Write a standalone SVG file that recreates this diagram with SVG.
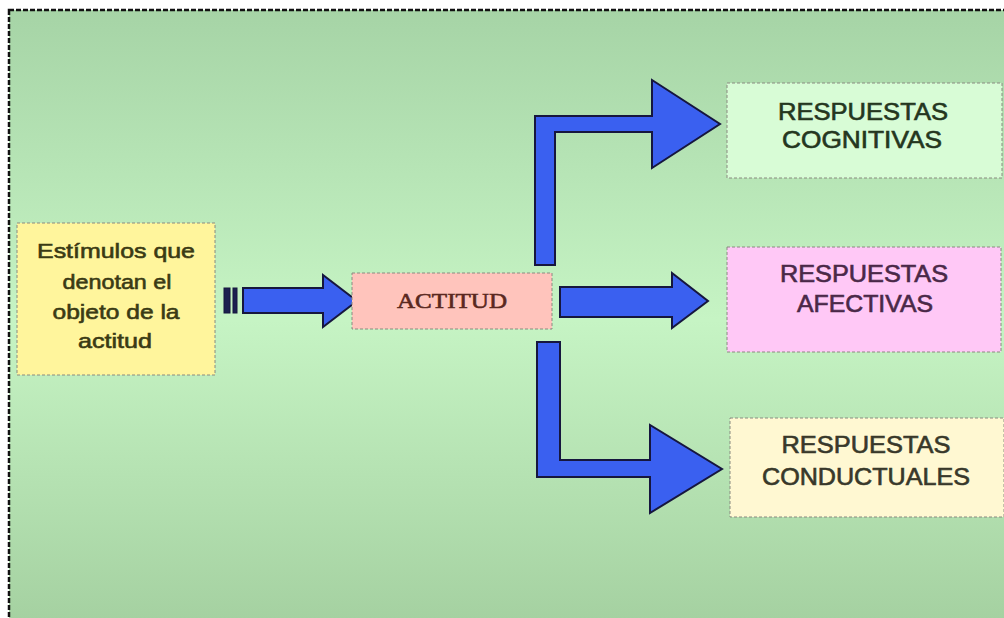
<svg xmlns="http://www.w3.org/2000/svg" width="1004" height="618" viewBox="0 0 1004 618">
  <defs>
    <linearGradient id="bg" x1="0" y1="0" x2="0" y2="1">
      <stop offset="0" stop-color="#a6d4a6"/>
      <stop offset="0.5" stop-color="#c6f4c4"/>
      <stop offset="1" stop-color="#a4d0a0"/>
    </linearGradient>
    <style>
      .box { stroke: #8a8a80; stroke-width: 1; stroke-dasharray: 3 2; }
      .arrow { fill: #3a60f0; stroke: #16163e; stroke-width: 2; stroke-linejoin: miter; }
      .stripe { fill: #1c2050; stroke: #16163e; stroke-width: 1; }
      .sans { font-family: "Liberation Sans", Arial, sans-serif; text-anchor: middle; stroke-width: 0.6; }
      .serif { font-family: "Liberation Serif", "Times New Roman", serif; text-anchor: middle; stroke-width: 0.6; }
    </style>
  </defs>
  <rect x="0" y="0" width="1004" height="618" fill="#ffffff"/>
  <rect x="9" y="10" width="1010" height="620" fill="url(#bg)" stroke="#111" stroke-width="2.5" stroke-dasharray="5 2"/>

  <g id="connectors">
    <g id="arrow-in">
      <rect x="224" y="288" width="6" height="25" class="stripe"/>
      <rect x="233" y="288" width="4" height="25" class="stripe"/>
      <path d="M243,288 L323,288 L323,275 L357,301 L323,327 L323,313 L243,313 Z" class="arrow"/>
    </g>
    <path id="arrow-cog" d="M535,265 L535,116 L652,116 L652,80 L720,124 L652,168 L652,132 L555,132 L555,265 Z" class="arrow"/>
    <path id="arrow-afe" d="M560,287 L672,287 L672,273 L708,301 L672,328 L672,317 L560,317 Z" class="arrow"/>
    <path id="arrow-con" d="M537,342 L560,342 L560,460 L650,460 L650,425 L722,469 L650,513 L650,477 L537,477 Z" class="arrow"/>
  </g>

  <g id="node-estimulos">
    <rect x="17" y="223" width="198" height="152" fill="#fff59c" class="box"/>
    <g class="sans" font-size="21" fill="#3a3a14" stroke="#3a3a14">
      <text x="116" y="258" textLength="158" lengthAdjust="spacingAndGlyphs">Estímulos que</text>
      <text x="117" y="289" textLength="109" lengthAdjust="spacingAndGlyphs">denotan el</text>
      <text x="116" y="319" textLength="127" lengthAdjust="spacingAndGlyphs">objeto de la</text>
      <text x="115" y="348" textLength="74" lengthAdjust="spacingAndGlyphs">actitud</text>
    </g>
  </g>

  <g id="node-actitud">
    <rect x="352" y="273" width="200" height="56" fill="#ffc4bc" class="box"/>
    <text x="452" y="308" class="serif" font-size="22" fill="#5a2820" stroke="#5a2820" textLength="110" lengthAdjust="spacingAndGlyphs">ACTITUD</text>
  </g>

  <g id="node-cognitivas">
    <rect x="727" y="83" width="275" height="95" fill="#d8fcd6" class="box"/>
    <g class="sans" font-size="23" fill="#24361e" stroke="#24361e">
      <text x="863" y="120" textLength="170" lengthAdjust="spacingAndGlyphs">RESPUESTAS</text>
      <text x="862" y="148" textLength="160" lengthAdjust="spacingAndGlyphs">COGNITIVAS</text>
    </g>
  </g>

  <g id="node-afectivas">
    <rect x="727" y="247" width="274" height="105" fill="#ffc8f6" class="box"/>
    <g class="sans" font-size="23" fill="#4a2848" stroke="#4a2848">
      <text x="864" y="282" textLength="168" lengthAdjust="spacingAndGlyphs">RESPUESTAS</text>
      <text x="865" y="312" textLength="136" lengthAdjust="spacingAndGlyphs">AFECTIVAS</text>
    </g>
  </g>

  <g id="node-conductuales">
    <rect x="730" y="418" width="274" height="99" fill="#fff8d2" class="box"/>
    <g class="sans" font-size="23" fill="#38382a" stroke="#38382a">
      <text x="866" y="453" textLength="169" lengthAdjust="spacingAndGlyphs">RESPUESTAS</text>
      <text x="866" y="485" textLength="208" lengthAdjust="spacingAndGlyphs">CONDUCTUALES</text>
    </g>
  </g>
</svg>
